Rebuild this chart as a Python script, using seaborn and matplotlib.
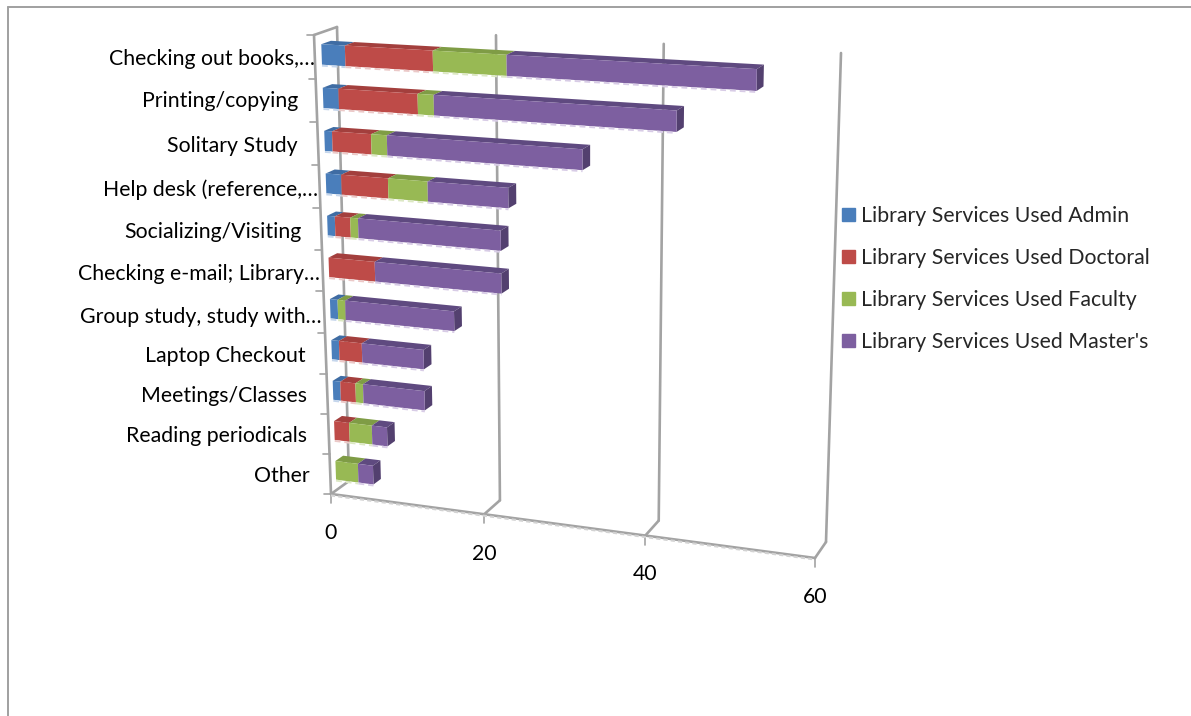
import matplotlib
matplotlib.use("Agg")
import matplotlib.pyplot as plt
import numpy as np
import seaborn as sns
from matplotlib.patches import Patch, Polygon
from matplotlib.transforms import Transform

sns.set_theme(style="white")
plt.rcParams['font.family'] = ['Lato', 'DejaVu Sans']

# ─── DATA ─────────────────────────────────────────────────────────────────────
services = ["Checking out books,…", "Printing/copying", "Solitary Study", "Help desk (reference,…",
            "Socializing/Visiting", "Checking e-mail; Library…", "Group study, study with…",
            "Laptop Checkout", "Meetings/Classes", "Reading periodicals", "Other"]
admin    = [3, 2, 1, 2, 1, 0, 1, 1, 1, 0, 0]
doctoral = [11, 10, 5, 6, 2, 6, 0, 3, 2, 2, 0]
faculty  = [9, 2, 2, 5, 1, 0, 1, 0, 1, 3, 3]
masters  = [29, 29, 24, 10, 18, 16, 14, 8, 8, 2, 2]
series_names = ["Library Services Used Admin", "Library Services Used Doctoral",
                "Library Services Used Faculty", "Library Services Used Master's"]
value_ticks = [0, 20, 40, 60]

# ─── STYLE / LAYOUT ───────────────────────────────────────────────────────────
COLORS = ['#4A7EBB', '#BE4B48', '#98B954', '#7D5FA0']
TOPS   = ['#3F6CA3', '#A33F3D', '#7F9C45', '#5F4A80']
CAPS   = ['#35598A', '#8A3533', '#6B843A', '#53406F']
PALE   = ['#C5D6EC', '#EBC9C8', '#DCE8C4', '#D8CCE6']
GRID = '#A3A3A3'
FS = 15.3
BAR_FRONT, BAR_BACK = 0.30, 0.72
# pixel corners of the floor-to-ceiling box: (value 0 top, value 60 top, value 0 bottom, value 60 bottom)
FRONT = [(314, 35), (825, 64), (331, 494), (815, 558)]
BACK  = [(337, 27), (841, 53), (349, 481), (826, 542)]
LABEL_RIGHT = [315, 298, 298, 318, 302, 320, 322, 306, 307, 307, 310]
LABEL_Y = [59, 101, 146, 190, 232, 274, 317, 356, 396, 436, 476]
TICK_LABEL_Y = [533, 554, 574, 597]


def homography(corners):
    src = [(0, 0), (60, 0), (0, 1), (60, 1)]
    A, b = [], []
    for (u, v), (x, y) in zip(src, corners):
        A.append([u, v, 1, 0, 0, 0, -u * x, -v * x])
        A.append([0, 0, 0, u, v, 1, -u * y, -v * y])
        b += [x, y]
    return np.append(np.linalg.solve(np.array(A, float), np.array(b, float)), 1).reshape(3, 3)


H_FRONT, H_BACK = homography(FRONT), homography(BACK)


def project(val, row, depth):
    val, row = np.broadcast_arrays(np.asarray(val, float), np.asarray(row, float))
    p = np.stack([val, (row + 0.5) / len(services), np.ones_like(val)], axis=-1)
    f = p @ H_FRONT.T
    b = p @ H_BACK.T
    f = f[..., :2] / f[..., 2:]
    b = b[..., :2] / b[..., 2:]
    if np.ndim(depth):
        depth = np.asarray(depth)[..., None]
    return (1 - depth) * f + depth * b


class Perspective(Transform):
    input_dims = output_dims = 2

    def __init__(self, wall_depth):
        super().__init__()
        self.wall_depth = wall_depth

    def transform_non_affine(self, values):
        return project(values[:, 0], values[:, 1], self.wall_depth)


fig = plt.figure(figsize=(11.91, 7.16), dpi=100)
ax = fig.add_axes([0, 0, 1, 1])

# ─── BARS ─────────────────────────────────────────────────────────────────────
left = np.zeros(len(services))
rects = []
for name, vals, col in zip(series_names, [admin, doctoral, faculty, masters], COLORS):
    n_before = len(ax.patches)
    sns.barplot(y=services, x=vals, left=left, color=col, saturation=1, width=0.47,
                errorbar=None, orient='y', ax=ax, zorder=5, linewidth=0)
    rects.append(ax.patches[n_before:])
    left = left + np.array(vals)

ax.set_xlim(0, 1191)
ax.set_ylim(716, 0)
ax.axis('off')
trans_front = Perspective(BAR_FRONT) + ax.transData

totals = left
for s, bars in enumerate(rects):
    for r, bar in enumerate(bars):
        if bar.get_width() == 0:
            continue
        x0, x1 = bar.get_x(), bar.get_x() + bar.get_width()
        y0, y1 = bar.get_y(), bar.get_y() + bar.get_height()
        bar.set_transform(trans_front)
        bar.set_clip_on(False)
        # top face
        top = [project(x0, y0, BAR_FRONT), project(x1, y0, BAR_FRONT),
               project(x1, y0, BAR_BACK), project(x0, y0, BAR_BACK)]
        ax.add_patch(Polygon(top, color=TOPS[s], lw=0, zorder=4, clip_on=False))
        # end cap on the last segment of the stack
        if x1 == totals[r]:
            cap = [project(x1, y0, BAR_FRONT), project(x1, y1, BAR_FRONT),
                   project(x1, y1, BAR_BACK), project(x1, y0, BAR_BACK)]
            ax.add_patch(Polygon(cap, color=CAPS[s], lw=0, zorder=4, clip_on=False))
        # pale dashes along the lower edge
        edge = project([x0, x1], [y1, y1], BAR_FRONT)
        ax.plot(edge[:, 0], edge[:, 1] + 1, color=PALE[s], lw=1.4, ls=(0, (3, 2)), zorder=6, clip_on=False)

# ─── BOX: GRIDLINES, AXES, TICKS ──────────────────────────────────────────────
def box_line(vals, rows, depths, lw=1.9, color=GRID, z=2):
    pts = project(vals, rows, depths)
    ax.plot(pts[..., 0], pts[..., 1], color=color, lw=lw, zorder=z, solid_capstyle='round', clip_on=False)


top_row, bot_row = -0.5, len(services) - 0.5
for v in value_ticks:
    box_line([v, v], [top_row, bot_row], 1)
    box_line([v, v], [bot_row, bot_row], [0, 1])
    p = project(v, bot_row, 0)
    ax.plot([p[0], p[0]], [p[1], p[1] + 9], color=GRID, lw=1.2, zorder=2)
box_line([0, 0], [top_row, bot_row], 0)
box_line([0, 0], [top_row, top_row], [0, 1])
box_line([0, 60], [bot_row, bot_row], 0)
axis_pts = project([0, 60], [bot_row, bot_row], 0)
ax.plot(axis_pts[:, 0], axis_pts[:, 1] + 1.5, color='#D2D2D2', lw=1.5, ls=(0, (2, 1.5)), zorder=3)
for r in np.arange(top_row, bot_row + 1):
    p = project(0, r, 0)
    ax.plot([p[0] - 7, p[0]], [p[1], p[1]], color=GRID, lw=1.2, zorder=2)

# ─── TEXT ─────────────────────────────────────────────────────────────────────
for label, xr, yr in zip(services, LABEL_RIGHT, LABEL_Y):
    ax.text(xr, yr, label, ha='right', va='center', fontsize=FS, color='black')
for v, yt in zip(value_ticks, TICK_LABEL_Y):
    ax.text(project(v, bot_row, 0)[0], yt, str(v), ha='center', va='center', fontsize=FS, color='black')

handles = [Patch(color=c) for c in COLORS]
ax.legend(handles, series_names, loc='center left', bbox_to_anchor=(842 / 1191, 1 - 279 / 716),
          frameon=False, fontsize=FS, handlelength=0.61, handleheight=0.61,
          handletextpad=0.28, labelspacing=1.04, borderpad=0, borderaxespad=0)

# chart frame: only the top and left edges are inside the crop
ax.plot([8, 1191], [7, 7], color='#A0A0A0', lw=1.4, zorder=1, clip_on=False)
ax.plot([8, 8], [7, 716], color='#A0A0A0', lw=1.4, zorder=1, clip_on=False)

fig.savefig('out.png', dpi=100)
plt.close()
